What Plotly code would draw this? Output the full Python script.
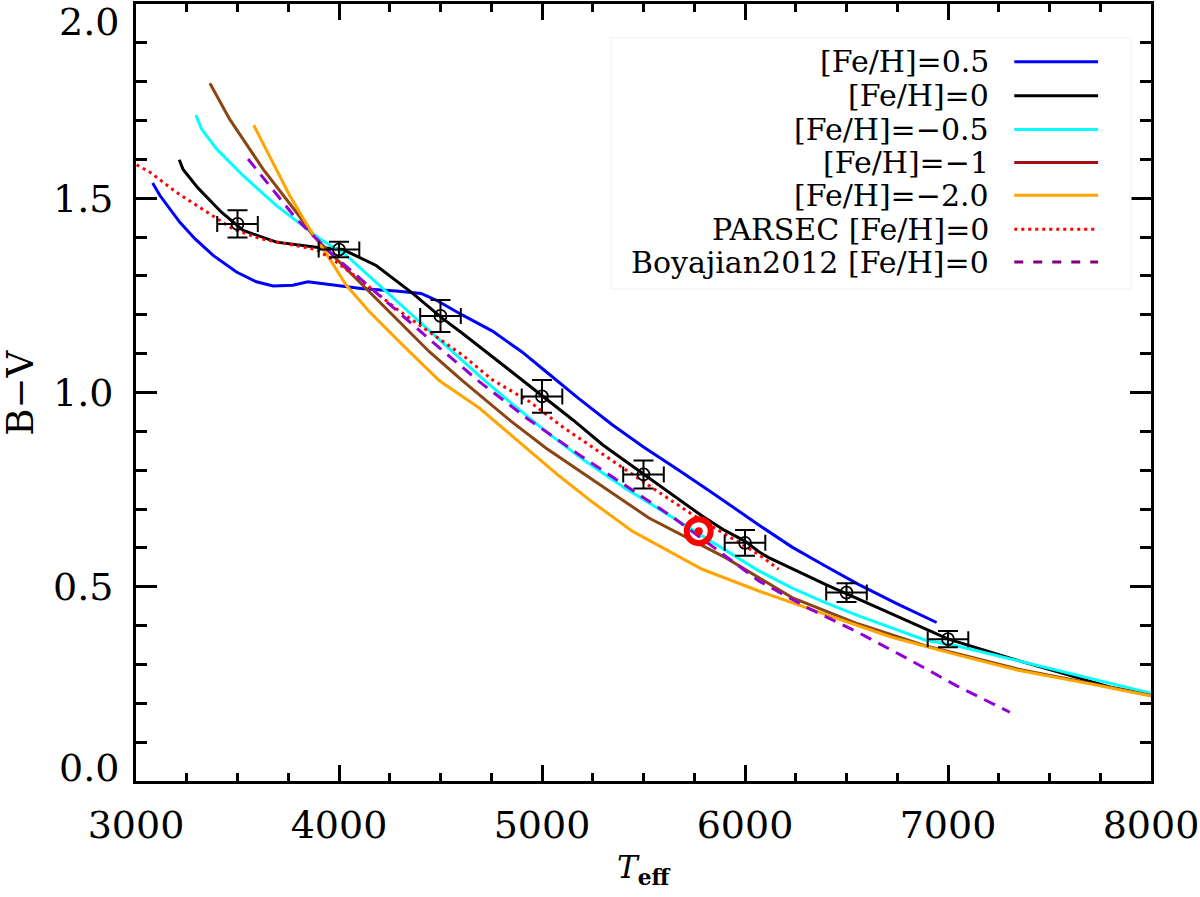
import plotly.graph_objects as go

# ---- data ----
# [Fe/H] = 0.5
teff_p05 = [3082, 3118, 3216, 3290, 3380, 3495, 3593, 3675, 3773, 3847, 3953, 4117, 4281,
            4404, 4478, 4609, 4756, 4900, 5019, 5180, 5346, 5500, 5674, 5822, 6068, 6232,
            6400, 6559, 6750, 6944]
bv_p05 = [1.539, 1.507, 1.438, 1.396, 1.353, 1.310, 1.285, 1.274, 1.276, 1.285, 1.278, 1.267,
          1.261, 1.255, 1.238, 1.199, 1.158, 1.105, 1.054, 0.985, 0.917, 0.860, 0.800, 0.748,
          0.659, 0.602, 0.552, 0.506, 0.456, 0.408]

# [Fe/H] = 0
teff_0 = [3213, 3232, 3306, 3421, 3528, 3692, 3889, 4019, 4183, 4363, 4511, 4609, 4839, 5003,
          5151, 5300, 5502, 5789, 5900, 6002, 6068, 6117, 6396, 6723, 7002, 7346, 7600, 7805,
          8000]
bv_0 = [1.599, 1.574, 1.526, 1.464, 1.417, 1.387, 1.374, 1.368, 1.327, 1.255, 1.190, 1.152,
        1.058, 0.990, 0.930, 0.865, 0.789, 0.682, 0.645, 0.617, 0.590, 0.575, 0.506, 0.429,
        0.365, 0.310, 0.272, 0.241, 0.222]

# [Fe/H] = -0.5
teff_m05 = [3295, 3323, 3397, 3528, 3692, 3823, 3905, 4036, 4216, 4380, 4543, 4715, 4850, 5019,
            5200, 5400, 5600, 5740, 5900, 6068, 6230, 6396, 6560, 6723, 6887, 7051, 7346, 7700,
            8000]
bv_m05 = [1.714, 1.678, 1.627, 1.558, 1.481, 1.430, 1.396, 1.353, 1.267, 1.190, 1.113, 1.032,
          0.972, 0.900, 0.828, 0.757, 0.692, 0.648, 0.595, 0.541, 0.497, 0.459, 0.425, 0.395,
          0.363, 0.347, 0.310, 0.265, 0.226]

# [Fe/H] = -1
teff_m1 = [3364, 3462, 3626, 3790, 3872, 3987, 4117, 4281, 4445, 4609, 4691, 4850, 5019, 5250,
           5527, 5904, 6232, 6559, 6887, 7051, 7346, 7700, 8000]
bv_m1 = [1.796, 1.703, 1.575, 1.464, 1.404, 1.344, 1.276, 1.190, 1.105, 1.030, 0.994, 0.925,
         0.857, 0.775, 0.677, 0.575, 0.472, 0.404, 0.348, 0.327, 0.288, 0.252, 0.220]

# [Fe/H] = -2.0
teff_m2 = [3580, 3659, 3757, 3855, 3954, 4036, 4150, 4314, 4495, 4691, 4900, 5085, 5248, 5445,
           5789, 6068, 6396, 6723, 7051, 7346, 7700, 8000]
bv_m2 = [1.688, 1.609, 1.507, 1.421, 1.344, 1.276, 1.208, 1.122, 1.030, 0.960, 0.868, 0.785,
         0.718, 0.643, 0.545, 0.489, 0.429, 0.370, 0.324, 0.285, 0.250, 0.219]

# PARSEC [Fe/H] = 0
teff_parsec = [3003, 3069, 3200, 3348, 3478, 3610, 3773, 3888, 3987, 4117, 4281, 4445, 4609,
               4757, 4937, 5100, 5265, 5412, 5511, 5740, 5904, 6068, 6166]
bv_parsec = [1.586, 1.567, 1.515, 1.464, 1.421, 1.396, 1.379, 1.368, 1.336, 1.285, 1.216, 1.156,
             1.096, 1.032, 0.977, 0.912, 0.853, 0.800, 0.766, 0.686, 0.635, 0.583, 0.545]

# Boyajian 2012 [Fe/H] = 0
teff_boy = [3552, 3790, 3954, 4200, 4450, 4691, 4930, 5183, 5420, 5642, 5850, 6068, 6300, 6559,
            6800, 7043, 7305]
bv_boy = [1.601, 1.447, 1.362, 1.250, 1.135, 1.028, 0.932, 0.840, 0.757, 0.680, 0.600, 0.515,
          0.448, 0.382, 0.315, 0.245, 0.177]

# calibration points with error bars
teff_pts = [3500, 4000, 4500, 5000, 5500, 6000, 6500, 7000]
bv_pts = [1.434, 1.368, 1.197, 0.990, 0.789, 0.613, 0.485, 0.365]
teff_err = [100, 100, 100, 100, 100, 100, 100, 100]
bv_err = [0.035, 0.020, 0.041, 0.042, 0.036, 0.033, 0.024, 0.021]

# the Sun
teff_sun = [5772]
bv_sun = [0.643]

x_ticks = [3000, 4000, 5000, 6000, 7000, 8000]
y_ticks = [0.5, 1.0, 1.5]
y_ticktext = ['0.5', '1.0', '1.5']

legend_labels = ['[Fe/H]=0.5', '[Fe/H]=0', '[Fe/H]=\u22120.5', '[Fe/H]=\u22121',
                 '[Fe/H]=\u22122.0', 'PARSEC [Fe/H]=0', 'Boyajian2012 [Fe/H]=0']
legend_colors = ['#0000ff', '#000000', '#00ffff', '#a01010', '#ffa500', '#ff0000', '#800080']
legend_dash = ['solid', 'solid', 'solid', 'solid', 'solid', '3px,4px', '9px,10px']

FONT = 'DejaVu Serif'

fig = go.Figure()

curves = [
    (teff_p05, bv_p05, '#0000ff', 'solid'),
    (teff_0, bv_0, '#000000', 'solid'),
    (teff_m05, bv_m05, '#00ffff', 'solid'),
    (teff_m1, bv_m1, '#8b4513', 'solid'),
    (teff_m2, bv_m2, '#ffa500', 'solid'),
    (teff_parsec, bv_parsec, '#ff0000', '3px,4px'),
    (teff_boy, bv_boy, '#9400d3', '12px,8px'),
]
for x, y, c, d in curves:
    fig.add_trace(go.Scatter(x=x, y=y, mode='lines', line=dict(color=c, width=3, dash=d),
                             showlegend=False))

fig.add_trace(go.Scatter(
    x=teff_pts, y=bv_pts, mode='markers',
    marker=dict(symbol='circle-open', size=12, color='black', line=dict(width=1.8)),
    error_x=dict(type='data', array=teff_err, color='black', thickness=2, width=8),
    error_y=dict(type='data', array=bv_err, color='black', thickness=2, width=10),
    showlegend=False))

fig.add_trace(go.Scatter(x=teff_sun, y=bv_sun, mode='markers',
                         marker=dict(symbol='circle-open', size=24, color='#ff0000',
                                     line=dict(width=6, color='#ff0000')),
                         showlegend=False))
fig.add_trace(go.Scatter(x=teff_sun, y=bv_sun, mode='markers',
                         marker=dict(symbol='circle', size=8, color='#ff0000'),
                         showlegend=False))

# ---- hand-made legend (text right, line sample on the right) ----
def px2x(px):
    return (px - 136) / 1017.0


def py2y(py):
    return (781 - py) / 780.0


fig.add_shape(type='rect', xref='paper', yref='paper',
              x0=px2x(612), x1=px2x(1133), y0=py2y(287), y1=py2y(35),
              line=dict(color='#eef3f7', width=1), fillcolor='white', layer='above')
rows = [59, 93, 127, 160, 193, 227, 260]
for lab, col, dsh, ry in zip(legend_labels, legend_colors, legend_dash, rows):
    fig.add_annotation(x=px2x(993), y=py2y(ry), xref='paper', yref='paper', text=lab,
                       showarrow=False, xanchor='right', yanchor='middle',
                       font=dict(family=FONT, size=30, color='black'))
    fig.add_shape(type='line', xref='paper', yref='paper', x0=px2x(1016), x1=px2x(1100),
                  y0=py2y(ry), y1=py2y(ry), line=dict(color=col, width=3, dash=dsh),
                  layer='above')

# end tick labels placed like the original
fig.add_annotation(x=px2x(121), y=py2y(19), xref='paper', yref='paper', text='2.0',
                   showarrow=False, xanchor='right', yanchor='middle',
                   font=dict(family=FONT, size=38, color='black'))
fig.add_annotation(x=px2x(121), y=py2y(768), xref='paper', yref='paper', text='0.0',
                   showarrow=False, xanchor='right', yanchor='middle',
                   font=dict(family=FONT, size=38, color='black'))

# axis titles
fig.add_annotation(x=px2x(20), y=py2y(391), xref='paper', yref='paper', text='B\u2212V',
                   showarrow=False, textangle=-90, xanchor='center', yanchor='middle',
                   font=dict(family=FONT, size=37, color='black'))
fig.add_annotation(x=px2x(645), y=py2y(870), xref='paper', yref='paper',
                   text='<i>T</i><sub><b>eff</b></sub>',
                   showarrow=False, xanchor='center', yanchor='middle',
                   font=dict(family=FONT, size=31, color='black'))

axis_common = dict(showline=True, linecolor='black', linewidth=3, mirror='allticks',
                   ticks='inside', tickcolor='black', tickwidth=2.5, showgrid=False,
                   zeroline=False, tickfont=dict(family=FONT, size=38, color='black'),
                   ticklabeloverflow='allow')

fig.update_xaxes(range=[3000, 8000], tickvals=x_ticks,
                 ticklen=16, ticklabelstandoff=8,
                 minor=dict(ticks='inside', dtick=250, ticklen=8, tickwidth=2.5,
                            tickcolor='black', showgrid=False),
                 **axis_common)
fig.update_yaxes(range=[0, 2], tickvals=y_ticks, ticktext=y_ticktext,
                 ticklen=21, ticklabelstandoff=12,
                 minor=dict(ticks='inside', tick0=0, dtick=0.1, ticklen=11, tickwidth=2.5,
                            tickcolor='black', showgrid=False),
                 **axis_common)

fig.update_layout(width=1200, height=897, margin=dict(l=136, r=47, t=1, b=116),
                  plot_bgcolor='white', paper_bgcolor='white', showlegend=False)

fig.write_html("out.html", config={'displayModeBar': False},
               post_script="document.body.style.margin='0px';")
